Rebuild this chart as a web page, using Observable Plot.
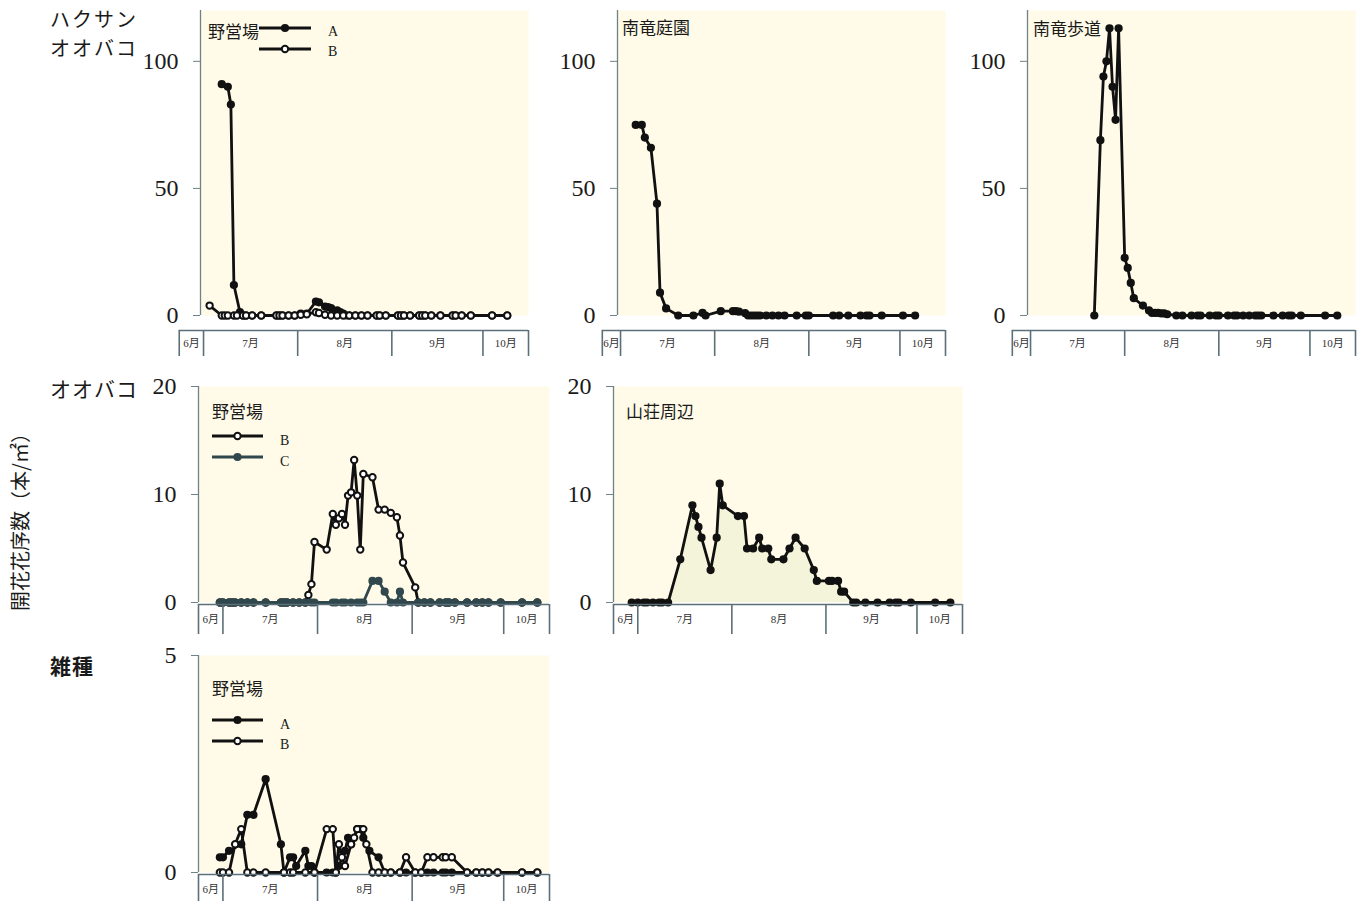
<!DOCTYPE html>
<html><head><meta charset="utf-8">
<script src="https://cdn.jsdelivr.net/npm/d3@7"></script>
<script src="https://cdn.jsdelivr.net/npm/@observablehq/plot@0.6"></script>
<style>
body{margin:0;background:#fff;}
#page{position:relative;width:1365px;height:901px;overflow:hidden;font-family:"Noto Sans CJK JP",sans-serif;color:#1a1a1a;}
.t{position:absolute;white-space:nowrap;}
.rowlab{font-size:21px;line-height:24px;letter-spacing:1px;}
.rowlab2{font-size:20px;line-height:22px;letter-spacing:2px;}
.ptitle{font-size:17px;line-height:17px;}
.leg{font-family:"Liberation Serif",serif;font-size:14px;line-height:16px;}
</style></head><body><div id="page"></div>
<script>
// ---------- data ----------
const monthLabels = ["6月","7月","8月","9月","10月"];
const monthStarts = ["7/1","8/1","9/1","10/1"];
const spanTop = ["6/30","10/16"];     // top row plotting span
const spanLower = ["6/23","10/16"];   // middle & bottom rows
const ticksTop = [0,50,100];
const ticksMid = [0,10,20];
const ticksBot = [0,5];

// ハクサンオオバコ 野営場 A
const hakuCampA = [["7/7",91],["7/9",90],["7/10",83],["7/11",12],["7/13",1.3],["7/14",0],["7/15",0],["7/17",0],["7/20",0],["7/25",0],["7/26",0],["7/27",0],["7/29",0],["7/31",0],["8/2",0.7],["8/4",0.7],["8/7",5.5],["8/8",5.2],["8/10",3.5],["8/11",3.3],["8/12",2.9],["8/14",2],["8/15",1.3],["8/16",0.7],["8/17",0],["8/18",0],["8/20",0],["8/22",0],["8/24",0],["8/27",0],["8/28",0],["8/30",0],["9/3",0],["9/4",0],["9/5",0],["9/7",0],["9/10",0],["9/11",0],["9/12",0],["9/14",0],["9/17",0],["9/21",0],["9/22",0],["9/24",0],["9/27",0],["10/4",0],["10/9",0]];
// ハクサンオオバコ 野営場 B
const hakuCampB = [["7/3",3.9],["7/7",0],["7/8",0],["7/9",0],["7/11",0],["7/12",0],["7/14",0],["7/15",0],["7/17",0],["7/20",0],["7/25",0],["7/26",0],["7/27",0],["7/29",0],["7/31",0],["8/2",0.3],["8/4",0.5],["8/7",1.3],["8/8",1.0],["8/10",0.3],["8/12",0],["8/14",0],["8/16",0],["8/18",0],["8/20",0],["8/22",0],["8/24",0],["8/27",0],["8/28",0],["8/30",0],["9/3",0],["9/4",0],["9/5",0],["9/7",0],["9/10",0],["9/11",0],["9/12",0],["9/14",0],["9/17",0],["9/21",0],["9/22",0],["9/24",0],["9/27",0],["10/4",0],["10/9",0]];
// ハクサンオオバコ 南竜庭園
const hakuGarden = [["7/6",75],["7/8",75],["7/9",70],["7/11",66],["7/13",44],["7/14",9],["7/16",2.8],["7/20",0],["7/25",0],["7/28",1],["7/29",0],["8/3",1.7],["8/7",1.7],["8/8",1.7],["8/9",1.5],["8/11",0.9],["8/12",0],["8/13",0],["8/14",0],["8/15",0],["8/16",0],["8/18",0],["8/20",0],["8/22",0],["8/24",0],["8/28",0],["8/31",0],["9/1",0],["9/9",0],["9/11",0],["9/14",0],["9/18",0],["9/20",0],["9/21",0],["9/25",0],["10/2",0],["10/6",0]];
// ハクサンオオバコ 南竜歩道
const hakuTrail = [["7/22",0],["7/24",69],["7/25",94],["7/26",100],["7/27",113],["7/28",90],["7/29",77],["7/30",113],["8/1",22.7],["8/2",18.7],["8/3",12.8],["8/4",6.8],["8/7",3.9],["8/9",2],["8/10",1],["8/11",1],["8/12",1],["8/13",0.8],["8/14",0.8],["8/15",0.5],["8/18",0],["8/20",0],["8/23",0],["8/25",0],["8/26",0],["8/29",0],["8/31",0],["9/1",0],["9/4",0],["9/6",0],["9/7",0],["9/9",0],["9/11",0],["9/13",0],["9/14",0],["9/15",0],["9/19",0],["9/22",0],["9/24",0],["9/25",0],["9/28",0],["10/6",0],["10/10",0]];
// オオバコ 野営場 B
const ooCampB = [["6/30",0],["7/1",0],["7/3",0],["7/4",0],["7/5",0],["7/7",0],["7/9",0],["7/11",0],["7/15",0],["7/20",0],["7/21",0],["7/22",0],["7/24",0],["7/26",0],["7/28",0],["7/29",0.7],["7/30",1.7],["7/31",5.6],["8/4",4.9],["8/6",8.2],["8/7",7.2],["8/8",7.8],["8/9",8.2],["8/10",7.2],["8/11",9.9],["8/12",10.2],["8/13",13.2],["8/14",9.9],["8/15",4.9],["8/16",11.9],["8/19",11.6],["8/21",8.6],["8/23",8.6],["8/25",8.3],["8/27",7.9],["8/28",6.2],["8/29",3.7],["9/2",1.4],["9/3",0],["9/5",0],["9/7",0],["9/10",0],["9/12",0],["9/13",0],["9/15",0],["9/19",0],["9/22",0],["9/24",0],["9/26",0],["9/30",0],["10/7",0],["10/12",0]];
// オオバコ 野営場 C
const ooCampC = [["6/30",0],["7/1",0],["7/3",0],["7/4",0],["7/5",0],["7/7",0],["7/9",0],["7/11",0],["7/15",0],["7/20",0],["7/21",0],["7/22",0],["7/24",0],["7/26",0],["7/28",0],["7/30",0],["7/31",0],["8/6",0],["8/7",0],["8/9",0],["8/10",0],["8/12",0],["8/14",0],["8/15",0],["8/16",0],["8/19",2],["8/21",2],["8/23",1],["8/25",0],["8/27",0],["8/28",1],["8/29",0],["9/3",0],["9/5",0],["9/7",0],["9/10",0],["9/12",0],["9/13",0],["9/15",0],["9/19",0],["9/22",0],["9/24",0],["9/26",0],["9/30",0],["10/7",0],["10/12",0]];
// オオバコ 山荘周辺
const ooLodge = [["6/29",0],["7/1",0],["7/3",0],["7/4",0],["7/6",0],["7/8",0],["7/9",0],["7/11",0],["7/15",4],["7/19",9],["7/20",8],["7/21",7],["7/22",6],["7/25",3],["7/27",6],["7/28",11],["7/29",9],["8/3",8],["8/5",8],["8/6",5],["8/8",5],["8/10",6],["8/11",5],["8/13",5],["8/14",4],["8/18",4],["8/20",5],["8/22",6],["8/25",5],["8/28",3],["8/29",2],["9/2",2],["9/3",2],["9/5",2],["9/6",1],["9/7",1],["9/10",0],["9/11",0],["9/14",0],["9/18",0],["9/22",0],["9/24",0],["9/25",0],["9/29",0],["10/7",0],["10/12",0]];
// 雑種 野営場 A
const hybCampA = [["6/30",0.35],["7/1",0.35],["7/3",0.5],["7/7",0.65],["7/9",1.33],["7/11",1.33],["7/15",2.15],["7/20",0.65],["7/21",0],["7/23",0.35],["7/24",0.35],["7/25",0.15],["7/28",0.5],["7/29",0.15],["7/30",0.15],["7/31",0],["8/4",0],["8/6",0],["8/7",0],["8/8",0.15],["8/10",0.5],["8/11",0.8],["8/12",0.65],["8/14",1],["8/15",1],["8/16",0.8],["8/18",0.5],["8/21",0.35],["8/23",0],["8/25",0],["8/28",0],["8/30",0],["9/2",0],["9/4",0],["9/6",0],["9/8",0],["9/11",0],["9/12",0],["9/14",0],["9/19",0],["9/22",0],["9/24",0],["9/26",0],["9/29",0],["10/7",0],["10/12",0]];
// 雑種 野営場 B
const hybCampB = [["6/30",0],["7/1",0],["7/3",0],["7/5",0.65],["7/7",1],["7/9",0],["7/11",0],["7/15",0],["7/21",0],["7/23",0],["7/24",0],["7/28",0],["7/31",0],["8/4",1],["8/6",1],["8/7",0],["8/8",0.65],["8/9",0.35],["8/10",0.15],["8/12",0.65],["8/13",0.8],["8/14",1],["8/16",1],["8/17",0.65],["8/19",0],["8/21",0],["8/23",0],["8/25",0],["8/28",0],["8/30",0.35],["9/2",0],["9/4",0],["9/6",0.35],["9/8",0.35],["9/11",0.35],["9/12",0.35],["9/14",0.35],["9/19",0],["9/22",0],["9/24",0],["9/26",0],["9/29",0],["10/7",0],["10/12",0]];

// ---------- drawing ----------
const BG = "#fffbe8", AREA = "#f3f4da", AXIS = "#6f8189", STRIP = "#5c6f78", INK = "#111111", SLATE = "#2f474d";
const mL = 70, mR = 14, mT = 4, mB = 8;
const page = document.getElementById("page");
const day = s => { const [m, d] = s.split("/").map(Number); return (Date.UTC(2000, m - 1, d) - Date.UTC(2000, 6, 1)) / 864e5; };
const rows = pairs => pairs.map(([d, v]) => ({x: day(d), y: v}));

function place(node, left, top) {
  node.style.position = "absolute"; node.style.left = left + "px"; node.style.top = top + "px";
  page.appendChild(node);
}
function seriesMarks(pairs, kind, color) {
  const data = rows(pairs);
  const m = [Plot.line(data, {x: "x", y: "y", stroke: color, strokeWidth: 2.8})];
  if (kind === "filled") m.push(Plot.dot(data, {x: "x", y: "y", r: 4.1, fill: color, stroke: "none"}));
  else m.push(Plot.dot(data, {x: "x", y: "y", r: 3.2, fill: "white", stroke: color, strokeWidth: 2}));
  return m;
}
function panel(p) {
  const xd = p.span.map(day);
  const chart = Plot.plot({
    width: p.w + mL + mR, height: p.h + mT + mB,
    marginLeft: mL, marginRight: mR, marginTop: mT, marginBottom: mB,
    style: {overflow: "visible", background: "transparent", fontFamily: "Liberation Serif, serif", color: "#1a1a1a"},
    x: {domain: xd, axis: null},
    y: {domain: [0, p.yMax]},
    marks: [
      Plot.frame({fill: BG, stroke: "none"}),
      ...(p.area ? [Plot.areaY(rows(p.area), {x: "x", y: "y", fill: AREA})] : []),
      ...p.series.flatMap(s => seriesMarks(s.data, s.kind, s.color)),
      Plot.ruleX([xd[0]], {stroke: AXIS, strokeWidth: 1.3}),
      Plot.axisY({ticks: p.ticks, tickSize: 7, tickPadding: 15, stroke: AXIS, fill: "#1a1a1a",
        fontSize: 24, fontFamily: "Liberation Serif, serif", label: null, tickFormat: d => String(d)})
    ]
  });
  place(chart, p.left - mL, p.top - mT);
  // month strip
  const bounds = [p.stripStart, ...monthStarts, p.span[1]].map(day);
  const cells = monthLabels.map((label, i) => ({label, x: (bounds[i] + bounds[i + 1]) / 2}));
  const strip = Plot.plot({
    width: p.w + mL + mR, height: p.stripH + 1,
    marginLeft: mL, marginRight: mR, marginTop: 1, marginBottom: 0,
    style: {overflow: "visible", background: "transparent"},
    x: {domain: xd, axis: null},
    y: {domain: [0, 1], axis: null},
    marks: [
      Plot.ruleY([1], {x1: () => bounds[0], x2: () => bounds[bounds.length - 1], stroke: STRIP, strokeWidth: 1.6}),
      Plot.ruleX(bounds, {stroke: STRIP, strokeWidth: 1.6}),
      Plot.text(cells, {x: "x", text: "label", frameAnchor: "middle", fontSize: 11,
        fontFamily: "Liberation Serif, Noto Sans CJK JP, serif", fill: "#333"})
    ]
  });
  place(strip, p.left - mL, p.stripTop - 1);
}
function text(str, left, centerY, cls, extra) {
  const d = document.createElement("div");
  d.className = "t " + cls; d.innerHTML = str;
  d.style.left = left + "px"; d.style.top = centerY + "px"; d.style.transform = "translateY(-50%)";
  if (extra) Object.assign(d.style, extra);
  page.appendChild(d);
}
function legend(x1, x2, y, kind, color, label, labelX, labelY) {
  const w = x2 - x1, c = w / 2;
  const circ = kind === "filled"
    ? `<circle cx="${c}" cy="7" r="4.1" fill="${color}"/>`
    : `<circle cx="${c}" cy="7" r="3.2" fill="white" stroke="${color}" stroke-width="2"/>`;
  const d = document.createElement("div");
  d.className = "t";
  d.style.left = x1 + "px"; d.style.top = (y - 7) + "px";
  d.innerHTML = `<svg width="${w}" height="14" style="display:block"><line x1="0" x2="${w}" y1="7" y2="7" stroke="${color}" stroke-width="2.8"/>${circ}</svg>`;
  page.appendChild(d);
  text(label, labelX, labelY, "leg");
}

// panels
panel({left: 200, top: 10, w: 328, h: 305, yMax: 120, ticks: ticksTop, span: spanTop, stripStart: "6/23", stripTop: 330, stripH: 26,
  series: [{data: hakuCampA, kind: "filled", color: INK}, {data: hakuCampB, kind: "open", color: INK}]});
panel({left: 617, top: 10, w: 328, h: 305, yMax: 120, ticks: ticksTop, span: spanTop, stripStart: "6/25", stripTop: 330, stripH: 26,
  series: [{data: hakuGarden, kind: "filled", color: INK}]});
panel({left: 1027, top: 10, w: 328, h: 305, yMax: 120, ticks: ticksTop, span: spanTop, stripStart: "6/25", stripTop: 330, stripH: 26,
  series: [{data: hakuTrail, kind: "filled", color: INK}]});
panel({left: 198, top: 386, w: 351, h: 216, yMax: 20, ticks: ticksMid, span: spanLower, stripStart: "6/23", stripTop: 604, stripH: 30,
  series: [{data: ooCampB, kind: "open", color: INK}, {data: ooCampC, kind: "filled", color: SLATE}]});
panel({left: 613, top: 386, w: 349, h: 216, yMax: 20, ticks: ticksMid, span: spanLower, stripStart: "6/23", stripTop: 604, stripH: 30,
  area: ooLodge, series: [{data: ooLodge, kind: "filled", color: INK}]});
panel({left: 198, top: 655, w: 351, h: 217, yMax: 5, ticks: ticksBot, span: spanLower, stripStart: "6/23", stripTop: 874, stripH: 30,
  series: [{data: hybCampA, kind: "filled", color: INK}, {data: hybCampB, kind: "open", color: INK}]});

// row labels and axis title
text("ハクサン", 50, 19, "rowlab2");
text("オオバコ", 50, 48, "rowlab2");
text("オオバコ", 50, 388, "rowlab");
text("雑種", 50, 665, "rowlab", {fontWeight: "700"});
text("開花花序数（本/㎡）", 20, 517, "rowlab", {fontSize: "20px", letterSpacing: "0px", transform: "translate(-50%,-50%) rotate(-90deg)"});

// panel titles
text("野営場", 208, 30, "ptitle");
text("南竜庭園", 622, 26, "ptitle");
text("南竜歩道", 1033, 27, "ptitle");
text("野営場", 212, 410, "ptitle");
text("山荘周辺", 626, 410, "ptitle");
text("野営場", 212, 687, "ptitle");

// legends
legend(259, 311, 28, "filled", INK, "A", 328, 32);
legend(259, 311, 48.5, "open", INK, "B", 328, 52);
legend(212, 263, 436, "open", INK, "B", 280, 441);
legend(212, 263, 457, "filled", SLATE, "C", 280, 462);
legend(212, 263, 720, "filled", INK, "A", 280, 725);
legend(212, 263, 741, "open", INK, "B", 280, 745);
</script></body></html>
